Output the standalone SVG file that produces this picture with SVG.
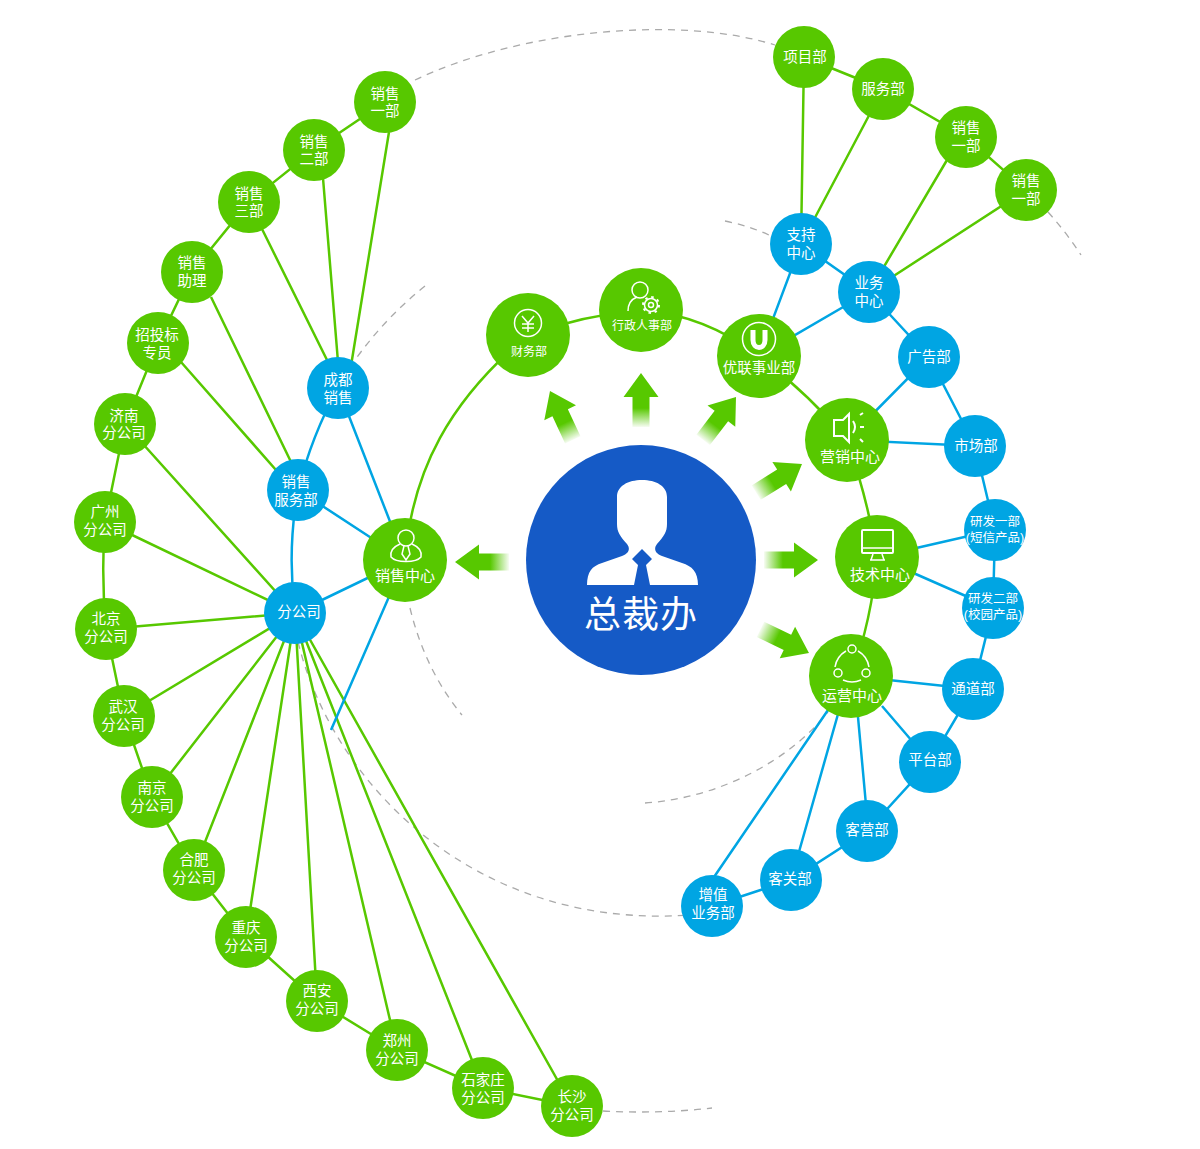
<svg xmlns="http://www.w3.org/2000/svg" width="1200" height="1149" viewBox="0 0 1200 1149">
<style>
.g{fill:#57c800}.b{fill:#00a5e3}
.lg,.lb,.d,.i{fill:none}
.lg{stroke:#57c800;stroke-width:2.5}
.lb{stroke:#00a5e3;stroke-width:2.5}
.d{stroke:#aaa;stroke-width:1.3;stroke-dasharray:7 6}
.i{stroke:#fff;stroke-width:1.5}
text{font-family:"Liberation Sans","Noto Sans CJK SC",sans-serif;fill:#fff;text-anchor:middle;font-size:14.5px}
.m{font-size:15px}.s{font-size:12.5px}.t{font-size:12px}
</style>
<defs>
<linearGradient id="fade" gradientUnits="userSpaceOnUse" x1="0" y1="25" x2="0" y2="54"><stop offset="0" stop-color="#57c800"/><stop offset="0.35" stop-color="#57c800"/><stop offset="1" stop-color="#57c800" stop-opacity="0.05"/></linearGradient>
<path id="arrow" d="M0,0L17.5,24H8.5V54H-8.5V24H-17.5Z" fill="url(#fade)"/>
</defs>
<g id="dashes">
<path class="d" d="M415,80C520,30 680,15 775,45"/>
<path class="d" d="M1048,212Q1066,232 1081,255"/>
<path class="d" d="M725,221Q750,226 771,236"/>
<path class="d" d="M425,286Q385,318 355,360"/>
<path class="d" d="M410,608Q425,670 462,715"/>
<path class="d" d="M298,642C335,790 480,930 690,915"/>
<path class="d" d="M645,803C720,798 790,760 828,712"/>
<path class="d" d="M603,1111Q660,1114 712,1108"/>
</g>
<g id="connectors">
<path class="lg" d="M385,102L314,150L249,202L192,272L158,343L125,424L105,522Q101,575 106,629L124,716L152,797L194,870L246,937L317,1001L397,1050L483,1088L572,1106"/>
<path class="lg" d="M389,132L350,372M323,178L338,362M262,229L328,362M211,297L292,464M181,362L276,470"/>
<path class="lg" d="M125,424L295,613M105,522L295,613M106,629L295,613M124,716L295,613M152,797L295,613M194,870L295,613M246,937L295,613M317,1001L295,613M397,1050L295,613M483,1088L295,613M572,1106L295,613"/>
<path class="lb" d="M338,388Q312,435 298,490Q287,550 295,613L405,560L298,490M338,388L405,560L331,730"/>
<path class="lg" d="M405,560C412,470 450,400 528,335Q585,315 641,310Q705,315 759,356Q810,395 847,440Q868,500 877,557Q872,620 851,676"/>
<path class="lb" d="M759,356L801,244L869,292L759,356M869,292L929,357L847,440L975,446M929,357L975,446L995,530L993,608L973,689L930,762L867,831L791,880L712,906"/>
<path class="lb" d="M877,557L995,530M877,557L993,608M851,676L973,689M882,706L930,762M858,717L866,805M842,700L791,880M828,710L712,880"/>
<path class="lg" d="M804,57L883,89L966,137L1026,190M804,57L801,244M883,89L801,244M947,160L869,292M1026,190L869,292"/>
</g>
<g id="arrows">
<use href="#arrow" transform="translate(550,391) rotate(-25)"/>
<use href="#arrow" transform="translate(641,373)"/>
<use href="#arrow" transform="translate(736,397) rotate(37.5)"/>
<use href="#arrow" transform="translate(802,464) rotate(58)"/>
<use href="#arrow" transform="translate(818,560) rotate(90)"/>
<use href="#arrow" transform="translate(809,653) rotate(116)"/>
<use href="#arrow" transform="translate(455,562) rotate(-90)"/>
</g>
<g id="center"><circle cx="641" cy="560" r="115" fill="#155ac6"/>
<path fill="#fff" d="M587,585C587,572 592,566 602,563L622,556C630,553 630,548 627,544C620,536 617,532 617,524V497C617,486 628,480 642,480C656,480 667,486 667,497V524C667,532 664,536 657,544C654,548 654,553 662,556L682,563C692,566 698,572 698,585H650L646,565L652,559L642,549L632,559L638,565L634,585Z"/>
<text x="641" y="628" style="font-size:37px;letter-spacing:1px">总裁办</text></g>
<g id="n1"><circle class="g" cx="385" cy="102" r="31"/><text x="385" y="98.5">销售<tspan x="385" dy="17.5">一部</tspan></text></g>
<g id="n2"><circle class="g" cx="314" cy="150" r="31"/><text x="314" y="146.5">销售<tspan x="314" dy="17.5">二部</tspan></text></g>
<g id="n3"><circle class="g" cx="249" cy="202" r="31"/><text x="249" y="198.5">销售<tspan x="249" dy="17.5">三部</tspan></text></g>
<g id="n4"><circle class="g" cx="192" cy="272" r="31"/><text x="192" y="268">销售<tspan x="192" dy="17.5">助理</tspan></text></g>
<g id="n5"><circle class="g" cx="158" cy="343" r="31"/><text x="157" y="340">招投标<tspan x="157" dy="17.5">专员</tspan></text></g>
<g id="n6"><circle class="g" cx="125" cy="424" r="31"/><text x="124" y="420.5">济南<tspan x="124" dy="17.5">分公司</tspan></text></g>
<g id="n7"><circle class="g" cx="105" cy="522" r="31"/><text x="105" y="517">广州<tspan x="105" dy="17.5">分公司</tspan></text></g>
<g id="n8"><circle class="g" cx="106" cy="629" r="31"/><text x="106" y="624">北京<tspan x="106" dy="17.5">分公司</tspan></text></g>
<g id="n9"><circle class="g" cx="124" cy="716" r="31"/><text x="123" y="712">武汉<tspan x="123" dy="18">分公司</tspan></text></g>
<g id="n10"><circle class="g" cx="152" cy="797" r="31"/><text x="152" y="793">南京<tspan x="152" dy="17.5">分公司</tspan></text></g>
<g id="n11"><circle class="g" cx="194" cy="870" r="31"/><text x="194" y="865">合肥<tspan x="194" dy="18">分公司</tspan></text></g>
<g id="n12"><circle class="g" cx="246" cy="937" r="31"/><text x="246" y="933">重庆<tspan x="246" dy="17.5">分公司</tspan></text></g>
<g id="n13"><circle class="g" cx="317" cy="1001" r="31"/><text x="317" y="996">西安<tspan x="317" dy="18">分公司</tspan></text></g>
<g id="n14"><circle class="g" cx="397" cy="1050" r="31"/><text x="397" y="1046">郑州<tspan x="397" dy="18">分公司</tspan></text></g>
<g id="n15"><circle class="g" cx="483" cy="1088" r="31"/><text x="483" y="1085">石家庄<tspan x="483" dy="17.5">分公司</tspan></text></g>
<g id="n16"><circle class="g" cx="572" cy="1106" r="31"/><text x="572" y="1102">长沙<tspan x="572" dy="17.5">分公司</tspan></text></g>
<g id="n17"><circle class="b" cx="338" cy="388" r="31"/><text x="338" y="384.5">成都<tspan x="338" dy="18">销售</tspan></text></g>
<g id="n18"><circle class="b" cx="298" cy="490" r="31"/><text x="296" y="487">销售<tspan x="296" dy="18">服务部</tspan></text></g>
<g id="n19"><circle class="b" cx="295" cy="613" r="31"/><text x="299" y="617">分公司</text></g>
<g id="n20"><circle class="g" cx="405" cy="560" r="42"/>
<circle class="i" cx="406" cy="538" r="8"/><path class="i" d="M400,544C393,547 390,552 391,557C396,563 416,563 421,557C422,552 419,547 412,544M404,546L402,554L406,560L410,554L408,546"/>
<text class="m" x="405" y="581">销售中心</text></g>
<g id="n21"><circle class="g" cx="528" cy="335" r="42"/>
<circle class="i" cx="528" cy="323" r="13.5"/><path class="i" d="M522,316L528,323L534,316M528,323V332M522,324H534M522,328H534"/>
<text class="t" x="529" y="356">财务部</text></g>
<g id="n22"><circle class="g" cx="641" cy="310" r="42"/>
<circle class="i" cx="640" cy="290" r="8"/><path class="i" d="M628,311C628,304 632,299 637,297"/><circle class="i" cx="651" cy="305" r="6.5"/><circle cx="651" cy="305" r="8" fill="none" stroke="#fff" stroke-width="2" stroke-dasharray="2.5 3.78"/><circle class="i" cx="651" cy="305" r="2.5"/>
<text class="t" x="642" y="330">行政人事部</text></g>
<g id="n23"><circle class="g" cx="759" cy="356" r="42"/>
<circle class="i" cx="759" cy="339" r="16.5"/><path d="M753,330V340C753,350 765,350 765,340V330" fill="none" stroke="#fff" stroke-width="5"/>
<text x="759" y="373">优联事业部</text></g>
<g id="n24"><circle class="g" cx="847" cy="440" r="42"/>
<path class="i" style="stroke-width:2" d="M834,420H843L849,414V442L843,436H834Z"/><path class="i" style="stroke-width:2" d="M853,421Q857,427 853,433M860,415L863,413M860,427H864M860,439L863,442"/>
<text class="m" x="850" y="462">营销中心</text></g>
<g id="n25"><circle class="g" cx="877" cy="557" r="42"/>
<rect class="i" style="stroke-width:2" x="862" y="530" width="31" height="23" rx="1"/><path class="i" d="M862,548H893M873,554L871,560M882,554L884,560"/><path class="i" d="M870,560H885"/>
<text class="m" x="880" y="580">技术中心</text></g>
<g id="n26"><circle class="g" cx="851" cy="676" r="42"/>
<circle class="i" cx="852" cy="649" r="4"/><circle class="i" cx="838" cy="673" r="4"/><circle class="i" cx="866" cy="673" r="4"/><path class="i" d="M846,651C839,655 836,661 835,667M858,651C865,655 868,661 869,667M843,680Q852,684 861,680"/>
<text class="m" x="852" y="701">运营中心</text></g>
<g id="n27"><circle class="b" cx="801" cy="244" r="31"/><text x="801" y="240">支持<tspan x="801" dy="17.5">中心</tspan></text></g>
<g id="n28"><circle class="b" cx="869" cy="292" r="31"/><text x="869" y="288">业务<tspan x="869" dy="18">中心</tspan></text></g>
<g id="n29"><circle class="b" cx="929" cy="357" r="31"/><text x="929" y="362">广告部</text></g>
<g id="n30"><circle class="b" cx="975" cy="446" r="31"/><text x="976" y="451">市场部</text></g>
<g id="n31"><circle class="b" cx="995" cy="530" r="31"/><text class="s" x="995" y="526">研发一部<tspan x="995" dy="15.5">(短信产品)</tspan></text></g>
<g id="n32"><circle class="b" cx="993" cy="608" r="31"/><text class="s" x="993" y="603">研发二部<tspan x="993" dy="16">(校园产品)</tspan></text></g>
<g id="n33"><circle class="b" cx="973" cy="689" r="31"/><text x="973" y="694">通道部</text></g>
<g id="n34"><circle class="b" cx="930" cy="762" r="31"/><text x="930" y="765">平台部</text></g>
<g id="n35"><circle class="b" cx="867" cy="831" r="31"/><text x="867" y="835">客营部</text></g>
<g id="n36"><circle class="b" cx="791" cy="880" r="31"/><text x="790" y="884">客关部</text></g>
<g id="n37"><circle class="b" cx="712" cy="906" r="31"/><text x="713" y="900">增值<tspan x="713" dy="17.5">业务部</tspan></text></g>
<g id="n38"><circle class="g" cx="804" cy="57" r="31"/><text x="805" y="62">项目部</text></g>
<g id="n39"><circle class="g" cx="883" cy="89" r="31"/><text x="883" y="94">服务部</text></g>
<g id="n40"><circle class="g" cx="966" cy="137" r="31"/><text x="966" y="133">销售<tspan x="966" dy="17.5">一部</tspan></text></g>
<g id="n41"><circle class="g" cx="1026" cy="190" r="31"/><text x="1026" y="186">销售<tspan x="1026" dy="17.5">一部</tspan></text></g>
</svg>
